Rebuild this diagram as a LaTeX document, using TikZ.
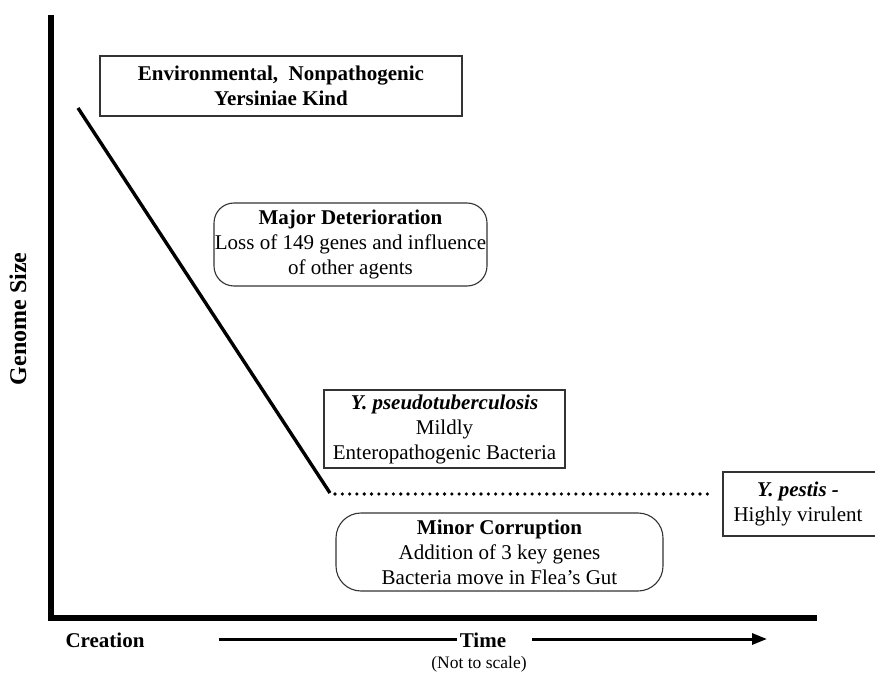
\documentclass[tikz,border=0pt]{standalone}
\usepackage{fontspec}
\setmainfont{Liberation Serif}
\usetikzlibrary{arrows.meta}
\begin{document}
\begin{tikzpicture}[x=1pt,y=1pt,
  box/.style={draw=black!80, line width=1.1pt, align=center, font=\fontsize{21}{25}\selectfont, inner sep=0pt},
  rbox/.style={box, rounded corners=20pt},
  boxline/.style={draw=black!80, line width=1.1pt},
  axisline/.style={line width=5.5pt, line join=miter},
  curve/.style={line width=3.4pt},
  dotline/.style={line width=3.6pt, line cap=round, dash pattern=on 0pt off 7.3pt},
  lbl/.style={font=\fontsize{21}{25}\selectfont\bfseries, inner sep=0pt},
  timearrow/.style={line width=3pt}]
\useasboundingbox (0,0) rectangle (875,673);

% axes
\coordinate (ytop) at (51,658);
\coordinate (orig) at (51,55);
\coordinate (xend) at (817,55);
\draw[axisline] (ytop) -- (orig) -- (xend);

% boxes
\node[box, minimum width=362pt, minimum height=60pt] (env) at (281,587)
  {\bfseries Environmental,\ \ Nonpathogenic\\\bfseries Yersiniae Kind};
\node[rbox, minimum width=273pt, minimum height=83pt] (major) at (350.5,428.5)
  {\bfseries Major Deterioration\\Loss of 149 genes and influence\\of other agents};
\node[box, minimum width=241pt, minimum height=78pt] (pseudo) at (444.5,244)
  {\bfseries\itshape Y. pseudotuberculosis\\Mildly\\Enteropathogenic Bacteria};
\node[align=center, font=\fontsize{21}{25}\selectfont, inner sep=0pt, minimum height=64pt] (pestis) at (798,169)
  {{\bfseries\itshape Y. pestis -}\\Highly virulent};
\coordinate (pNE) at (890,201);
\coordinate (pNW) at (723,201);
\coordinate (pSW) at (723,137);
\coordinate (pSE) at (890,137);
\draw[boxline] (pNE) -- (pNW) -- (pSW) -- (pSE);
\node[rbox, rounded corners=25pt, minimum width=327pt, minimum height=78pt] (minor) at (499.5,121)
  {\bfseries Minor Corruption\\Addition of 3 key genes\\Bacteria move in Flea’s Gut};

% genome line
\coordinate (g0) at (78,565);
\coordinate (g1) at (330,180);
\coordinate (d0) at (335,179);
\coordinate (d1) at (712,179);
\draw[curve] (g0) -- (g1);
\draw[dotline] (d0) -- (d1);

% axis labels
\node[font=\fontsize{24}{28}\selectfont\bfseries, inner sep=0pt, rotate=90] (gsize) at (18,354) {Genome Size};
\node[lbl] (creation) at (105,33) {Creation};
\node[lbl] (time) at (483,33) {Time};
\node[font=\fontsize{17.5}{20}\selectfont, inner sep=0pt] (nts) at (479,9) {(Not to scale)};
\coordinate (tl) at (219,34);
\coordinate (tr) at (767,34);
\draw[timearrow] (tl) -- ([xshift=-3pt]time.west |- tl);
\draw[timearrow, -{Triangle[length=15pt,width=11pt]}] ([xshift=26pt]time.east |- tr) -- (tr);
\end{tikzpicture}
\end{document}
